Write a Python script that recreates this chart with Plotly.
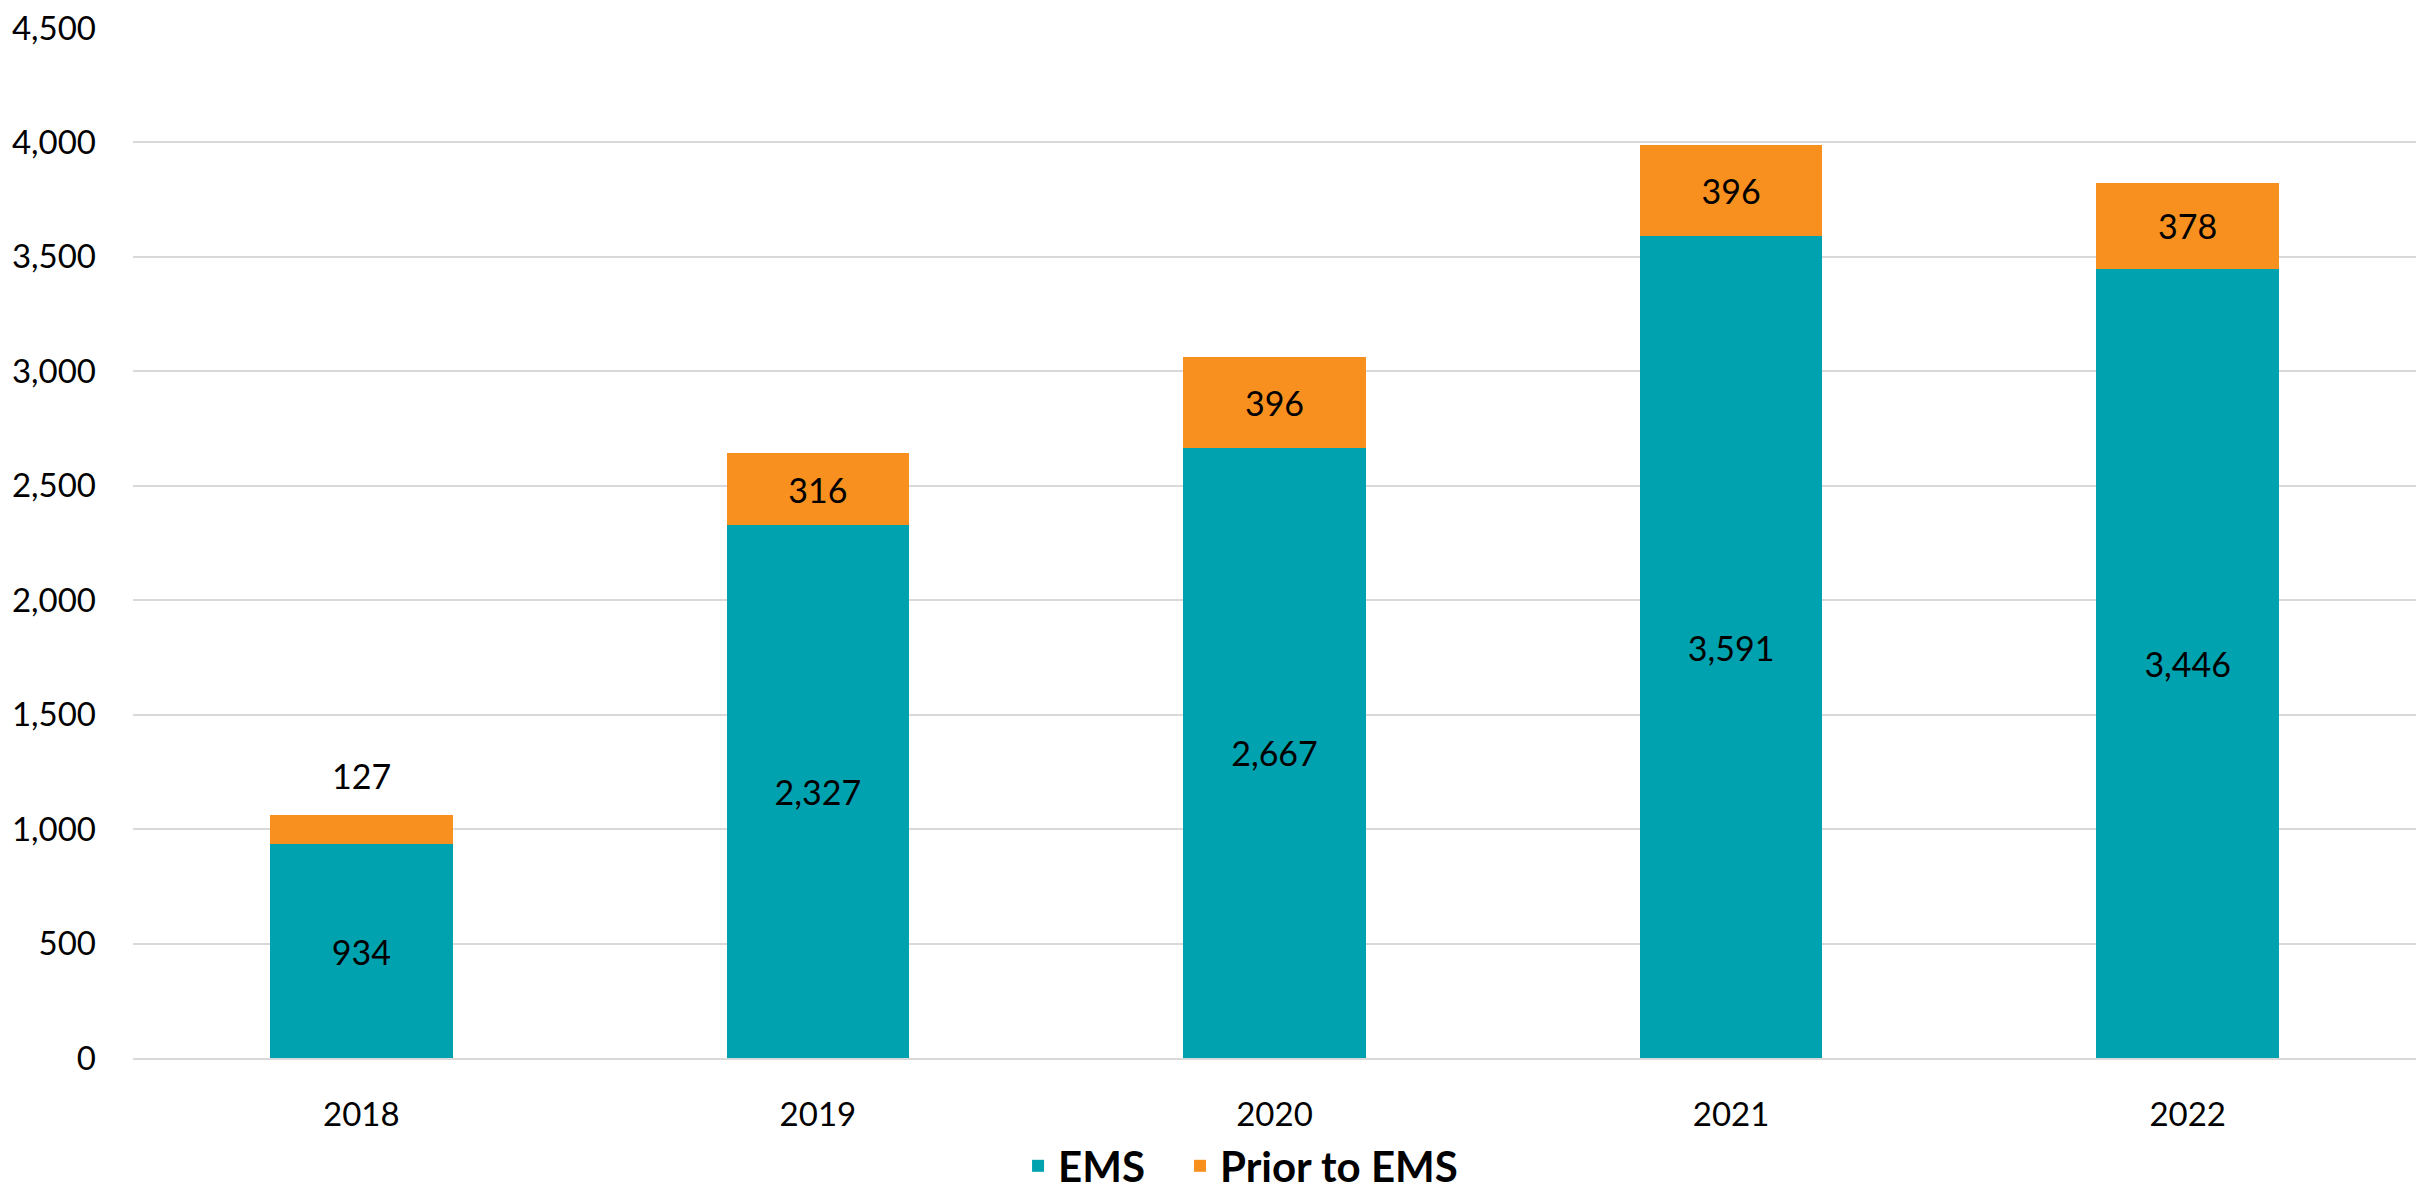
import plotly.graph_objects as go

years = ["2018", "2019", "2020", "2021", "2022"]
ems = [934, 2327, 2667, 3591, 3446]
prior = [127, 316, 396, 396, 378]

TEAL = "#00A2B0"
ORANGE = "#F7901E"
FONT = "Lato"

# "Prior to EMS" labels that sit above the bar (segment too thin for the text)
prior_above = [True, False, False, False, False]

fig = go.Figure()
fig.add_trace(go.Bar(
    x=years, y=ems, name="EMS", legend="legend", showlegend=True,
    marker=dict(color=TEAL, line=dict(width=0)),
    text=[f"{v:,}" for v in ems], textposition="inside",
    insidetextanchor="middle", constraintext="none",
    textfont=dict(family=FONT, size=34, color="black"),
))
fig.add_trace(go.Bar(
    x=years, y=prior, name="Prior to EMS", legend="legend2", showlegend=True,
    marker=dict(color=ORANGE, line=dict(width=0)),
    text=["" if a else f"{v:,}" for v, a in zip(prior, prior_above)],
    textposition="inside",
    insidetextanchor="middle", constraintext="none",
    textfont=dict(family=FONT, size=34, color="black"),
))

for i, (e, p, a) in enumerate(zip(ems, prior, prior_above)):
    if a:
        fig.add_annotation(
            x=i, y=e + p, xref="x", yref="y", text=f"{p:,}",
            showarrow=False, yanchor="bottom", yshift=17,
            font=dict(family=FONT, size=34, color="black"),
        )

legend_font = dict(family=FONT, size=42, color="black", weight="bold")

fig.update_layout(
    width=2428, height=1192,
    barmode="stack", bargap=0.6,
    plot_bgcolor="white", paper_bgcolor="white",
    margin=dict(l=125, r=20, t=20, b=142, autoexpand=False),
    font=dict(family=FONT, size=33, color="black"),
    showlegend=True,
    legend=dict(
        orientation="h", xref="container", yref="container",
        x=0.416, xanchor="left", y=-0.002, yanchor="bottom",
        font=legend_font, itemwidth=30, bgcolor="rgba(0,0,0,0)",
    ),
    legend2=dict(
        visible=True,
        orientation="h", xref="container", yref="container",
        x=0.4827, xanchor="left", y=-0.002, yanchor="bottom",
        font=legend_font, itemwidth=30, bgcolor="rgba(0,0,0,0)",
    ),
    xaxis=dict(
        type="category", range=[-0.5, 4.5], autorange=False,
        showgrid=False, showline=True, linecolor="#D9D9D9", linewidth=2,
        ticks="", ticklabelstandoff=26,
        tickfont=dict(family=FONT, size=33, color="black"),
    ),
    yaxis=dict(
        range=[0, 4500], autorange=False, dtick=500, tickformat=",",
        showgrid=True, gridcolor="#D9D9D9", gridwidth=1.5,
        zeroline=False, showline=False, ticks="",
        ticklabelstandoff=36, ticklabeloverflow="allow",
        tickfont=dict(family=FONT, size=33, color="black"),
    ),
)

fig.write_html("out.html")
